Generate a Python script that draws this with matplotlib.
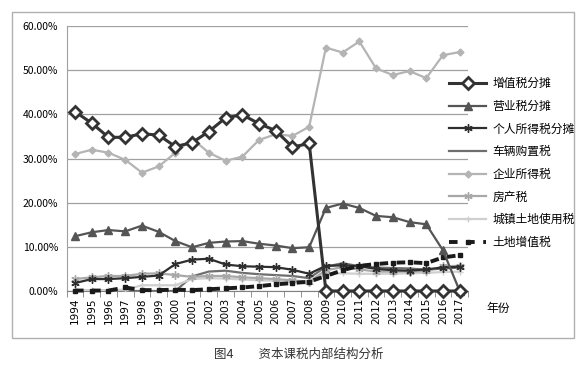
import numpy as np
import matplotlib
matplotlib.use('Agg')
import matplotlib.pyplot as plt
from matplotlib.patches import Rectangle
from matplotlib.ticker import FuncFormatter, MultipleLocator

plt.rcParams['font.family'] = ['Noto Sans CJK SC', 'DejaVu Sans']

years = [str(y) for y in range(1994, 2018)]

# shares of capital taxation, %
vat = [40.6, 38.0, 34.8, 34.8, 35.6, 35.3, 32.7, 33.6, 36.1, 39.2, 39.9, 37.9,
       36.3, 32.6, 33.4, 0, 0, 0, 0, 0, 0, 0, 0, 0]
business = [12.4, 13.3, 13.8, 13.5, 14.8, 13.4, 11.3, 9.9, 10.9, 11.2, 11.3, 10.7,
            10.3, 9.7, 9.9, 18.8, 19.8, 18.8, 17.0, 16.7, 15.6, 15.1, 9.2, 0.0]
personal = [1.8, 2.7, 2.7, 2.9, 3.2, 3.5, 6.1, 7.1, 7.3, 6.0, 5.6, 5.5,
            5.4, 4.8, 3.9, 5.7, 5.8, 5.6, 5.0, 4.7, 4.6, 4.9, 5.3, 5.5]
vehicle = [0, 0, 0, 0, 0, 0, 0, 3.3, 4.4, 4.6, 4.1, 3.8,
           3.6, 3.4, 2.9, 5.5, 6.3, 5.6, 5.3, 5.2, 5.1, 4.8, 5.1, 5.3]
corporate = [31.0, 32.0, 31.3, 29.7, 26.8, 28.2, 31.3, 34.5, 31.3, 29.5, 30.4, 34.2,
             35.5, 35.1, 37.2, 55.1, 54.0, 56.5, 50.4, 48.9, 49.8, 48.2, 53.4, 54.1]
property_tax = [2.7, 3.1, 3.4, 3.4, 3.9, 4.0, 3.6, 3.2, 3.4, 3.4, 3.1, 2.9,
                2.7, 2.4, 2.1, 4.7, 5.4, 4.9, 4.4, 4.4, 4.4, 4.5, 5.6, 5.7]
land_use = [0.2, 0.2, 0.2, 0.3, 1.3, 1.3, 1.3, 2.7, 2.9, 2.8, 2.6, 2.4,
            2.3, 2.0, 1.7, 3.9, 4.0, 3.9, 3.9, 3.9, 4.0, 4.1, 4.3, 4.4]
land_vat = [0.1, 0.1, 0.1, 0.8, 0.2, 0.2, 0.3, 0.2, 0.4, 0.6, 0.8, 1.1,
            1.5, 1.8, 2.1, 3.4, 4.7, 5.7, 6.1, 6.4, 6.5, 6.3, 7.6, 8.1]

fig = plt.figure(figsize=(5.88, 3.69), dpi=100)
ax = fig.add_axes([0.1134, 0.2114, 0.6826, 0.7181])
x = np.arange(len(years))

ax.plot(x, vehicle, color='#6e6e6e', lw=1.6, label='车辆购置税', zorder=3)
ax.plot(x, land_use, color='#cfcfcf', lw=1.6, marker='+', ms=5, label='城镇土地使用税', zorder=3)
ax.plot(x, property_tax, color='#a8a8a8', lw=1.6, marker=(6, 2, 0), ms=6, label='房产税', zorder=3)
ax.plot(x, personal, color='#2e2e2e', lw=1.6, marker=(6, 2, 0), ms=6, label='个人所得税分摊', zorder=4)
ax.plot(x, land_vat, color='#1a1a1a', lw=2.8, ls=(0, (2.2, 2.2)), marker='s', ms=3,
        label='土地增值税', zorder=4, clip_on=False)
ax.plot(x, corporate, color='#b4b4b4', lw=1.6, marker='D', ms=3.5, label='企业所得税', zorder=3)
ax.plot(x, business, color='#555555', lw=1.6, marker='^', ms=5.5, label='营业税分摊', zorder=4,
        clip_on=False)
ax.plot(x, vat, color='#333333', lw=2.2, marker='D', ms=6.5, mfc='white', mew=2,
        label='增值税分摊', zorder=5, clip_on=False)

ax.set_xlim(-0.5, len(years) - 0.5)
ax.set_ylim(0, 60)
ax.yaxis.set_major_locator(MultipleLocator(10))
ax.yaxis.set_major_formatter(FuncFormatter(lambda v, p: '%.2f%%' % v))
ax.grid(axis='y', color='#a0a0a0', lw=0.9)
ax.set_axisbelow(True)
ax.set_xticks(x)
ax.set_xticklabels(years, rotation=90, fontsize=7.5, family='DejaVu Sans')
ax.set_xticks(np.arange(-0.5, len(years)), minor=True)
ax.tick_params(axis='x', which='major', length=0, pad=5)
ax.tick_params(axis='x', which='minor', length=4, color='#808080')
ax.tick_params(axis='y', length=0, labelsize=7.5, pad=6)
for s in ['top', 'right']:
    ax.spines[s].set_visible(False)
ax.spines['left'].set_color('#a0a0a0')
ax.spines['bottom'].set_color('#808080')

handles, labels = ax.get_legend_handles_labels()
order = ['增值税分摊', '营业税分摊', '个人所得税分摊', '车辆购置税', '企业所得税', '房产税',
         '城镇土地使用税', '土地增值税']
hmap = dict(zip(labels, handles))
fig.legend([hmap[k] for k in order], order, loc='upper left', bbox_to_anchor=(0.745, 0.82),
           frameon=False, fontsize=8.5, handlelength=3.2, labelspacing=0.82, handletextpad=0.5)

fig.text(0.828, 0.165, '年份', fontsize=8.5, va='center')
fig.text(0.508, 0.04, '图4　　资本课税内部结构分析', fontsize=9, ha='center', va='center',
         color='#333333')
fig.patches.append(Rectangle((12 / 588, 1 - 338 / 369), 562 / 588, 326 / 369,
                             transform=fig.transFigure, fill=False, ec='#b0b0b0', lw=1))

fig.savefig('out.png', dpi=100)
